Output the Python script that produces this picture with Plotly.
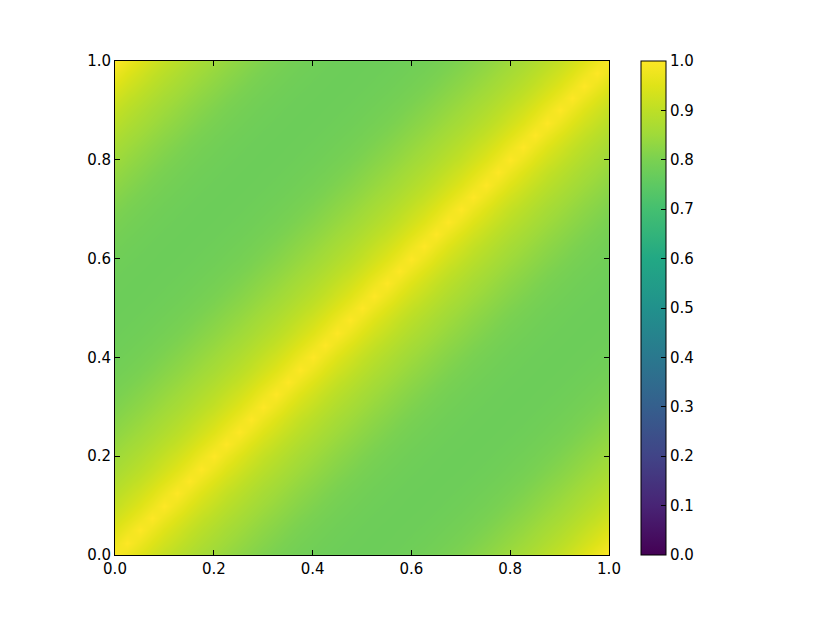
import plotly.graph_objects as go

# Kernel value versus distance |x - y|, in steps of 0.025
# from 0.0 to 0.5; the pattern mirrors back up to 1.0 at |x - y| = 1.
distance_steps = [round(i * 0.025, 3) for i in range(21)]
profile_values = [
    1.000, 0.974, 0.950, 0.929, 0.910, 0.893, 0.877, 0.862, 0.849, 0.837, 0.826,
    0.816, 0.806, 0.798, 0.791, 0.786, 0.782, 0.779, 0.777, 0.776, 0.775,
]

grid_axis = [round(i * 0.025, 3) for i in range(41)]
tick_values = [0.0, 0.2, 0.4, 0.6, 0.8, 1.0]
tick_labels = ["0.0", "0.2", "0.4", "0.6", "0.8", "1.0"]
cbar_ticks = [i / 10 for i in range(11)]
cbar_labels = [f"{v:.1f}" for v in cbar_ticks]

# matplotlib's viridis, sampled finer than plotly's built-in near the top end
VIRIDIS = [
    [0.00, "#440154"], [0.10, "#482475"], [0.20, "#414487"], [0.30, "#355f8d"],
    [0.40, "#2a788e"], [0.50, "#21918c"], [0.60, "#22a884"], [0.70, "#44bf70"],
    [0.75, "#5ec962"], [0.80, "#7ad151"], [0.85, "#9fda3a"], [0.90, "#bddf26"],
    [0.95, "#dfe318"], [1.00, "#fde725"],
]

n_steps = len(grid_axis) - 1
z = []
for i in range(len(grid_axis)):
    row = []
    for j in range(len(grid_axis)):
        k = abs(i - j)
        row.append(profile_values[min(k, n_steps - k)])
    z.append(row)

font = {"family": "DejaVu Sans", "size": 15, "color": "black"}

fig = go.Figure(
    go.Heatmap(
        x=grid_axis,
        y=grid_axis,
        z=z,
        zmin=0.0,
        zmax=1.0,
        zsmooth="best",
        colorscale=VIRIDIS,
        colorbar={
            "x": (641 - 115) / 494,
            "xanchor": "left",
            "xref": "paper",
            "y": 0.5,
            "yanchor": "middle",
            "len": 1.0,
            "lenmode": "fraction",
            "thickness": 25,
            "thicknessmode": "pixels",
            "outlinewidth": 1,
            "outlinecolor": "black",
            "tickvals": cbar_ticks,
            "ticktext": cbar_labels,
            "ticks": "inside",
            "ticklen": 5,
            "tickcolor": "black",
            "tickfont": font,
            "ypad": 0,
            "xpad": 0,
        },
    )
)

axis_style = {
    "range": [0, 1],
    "tickvals": tick_values,
    "ticktext": tick_labels,
    "ticks": "inside",
    "ticklen": 5,
    "tickcolor": "black",
    "showline": True,
    "linecolor": "black",
    "linewidth": 1,
    "mirror": "allticks",
    "showgrid": False,
    "zeroline": False,
    "tickfont": font,
}

# the page body adds an 8px margin, so the figure is 16px smaller than the window
fig.update_layout(
    width=801,
    height=601,
    margin={"l": 107, "r": 200, "t": 53, "b": 54},
    paper_bgcolor="white",
    plot_bgcolor="white",
    xaxis=axis_style,
    yaxis={**axis_style, "scaleanchor": "x", "scaleratio": 1},
)

fig.write_html("out.html")
